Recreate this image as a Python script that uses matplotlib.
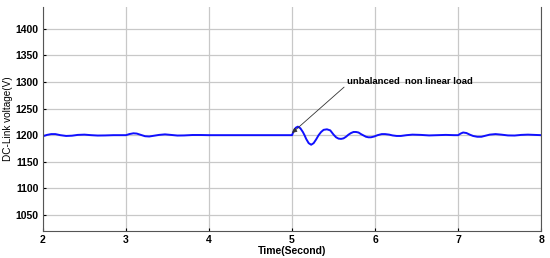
import matplotlib
matplotlib.use("Agg")
import matplotlib.pyplot as plt

# valori (tempo in s, tensione in V)
t = [2.00, 2.05, 2.10, 2.15, 2.21, 2.28, 2.35, 2.42, 2.50, 2.58, 2.66, 2.75, 2.85, 2.95,
     3.00, 3.04, 3.09, 3.13, 3.18, 3.23, 3.28, 3.34, 3.40, 3.47, 3.54, 3.62, 3.70, 3.80, 3.90,
     4.00, 4.50, 5.00,
     5.02, 5.045, 5.07, 5.10, 5.13, 5.15, 5.17, 5.20, 5.23, 5.26, 5.29, 5.32, 5.35, 5.38,
     5.42, 5.46, 5.48, 5.50, 5.53, 5.56, 5.59, 5.62, 5.65, 5.68, 5.71, 5.74, 5.77, 5.80,
     5.83, 5.86, 5.89, 5.92, 5.95, 5.99, 6.03, 6.08, 6.12, 6.17, 6.21, 6.26, 6.31, 6.38,
     6.45, 6.55, 6.65, 6.75, 6.85, 6.95, 7.00, 7.03, 7.06, 7.10, 7.14, 7.18, 7.23, 7.28,
     7.33, 7.38, 7.45, 7.52, 7.60, 7.68, 7.76, 7.84, 7.92, 8.00]
v = [1198, 1200.5, 1202, 1202, 1200, 1198.5, 1199, 1200.5, 1201, 1200, 1199.3, 1199.5, 1200, 1200,
     1200, 1202, 1203.5, 1203, 1200.5, 1198, 1197.5, 1199, 1200.5, 1201.5, 1200.5, 1199.3, 1199.5, 1200.3, 1200.3,
     1200, 1200, 1200,
     1208, 1214, 1216, 1213, 1206, 1200, 1193, 1185, 1182, 1185, 1192, 1200, 1206, 1210,
     1211, 1209, 1205, 1201, 1196, 1193.5, 1193, 1194, 1197, 1201, 1204, 1206, 1206, 1205,
     1202, 1199.5, 1197, 1196, 1196, 1197.5, 1200, 1202, 1202, 1201, 1199.5, 1198.5, 1198.5, 1200,
     1201, 1200.5, 1199.5, 1200, 1200.5, 1200, 1200, 1203, 1205, 1204, 1201, 1198.5, 1197, 1197,
     1199, 1201, 1202, 1201, 1199.5, 1199.3, 1200.5, 1201, 1200.5, 1200]

xticks = [2, 3, 4, 5, 6, 7, 8]
yticks = [1050, 1100, 1150, 1200, 1250, 1300, 1350, 1400]

plt.rcParams['font.family'] = ['Liberation Sans', 'DejaVu Sans']

fig = plt.figure(figsize=(5.5, 2.58), dpi=100)
ax = fig.add_axes([0.078, 0.105, 0.906, 0.868])
ax.plot(t, v, color="#1010ff", linewidth=1.4)

ax.set_xlim(2, 8)
ax.set_ylim(1020, 1441)
ax.set_xticks(xticks)
ax.set_yticks(yticks)
ax.grid(True, color="#c8c8c8", linewidth=0.9)
ax.tick_params(labelsize=7.5, length=2, direction="in", pad=3)
for lab in ax.get_xticklabels() + ax.get_yticklabels():
    lab.set_fontweight("bold")
for s in ax.spines.values():
    s.set_color("#555555")
    s.set_linewidth(0.8)
ax.spines["top"].set_visible(False)

ax.set_xlabel("Time(Second)", fontsize=7.5, fontweight="bold", labelpad=1)
ax.set_ylabel("DC-Link voltage(V)", fontsize=7.2, labelpad=2)

ax.annotate("unbalanced  non linear load", xy=(5.0, 1204), xytext=(5.66, 1300),
            fontsize=6.8, fontweight="bold", va="center", ha="left",
            arrowprops=dict(arrowstyle="-|>", color="#333333", lw=0.6,
                            shrinkA=0, shrinkB=0, mutation_scale=7,
                            relpos=(0, 0.2)))

fig.savefig("out.png", dpi=100)
